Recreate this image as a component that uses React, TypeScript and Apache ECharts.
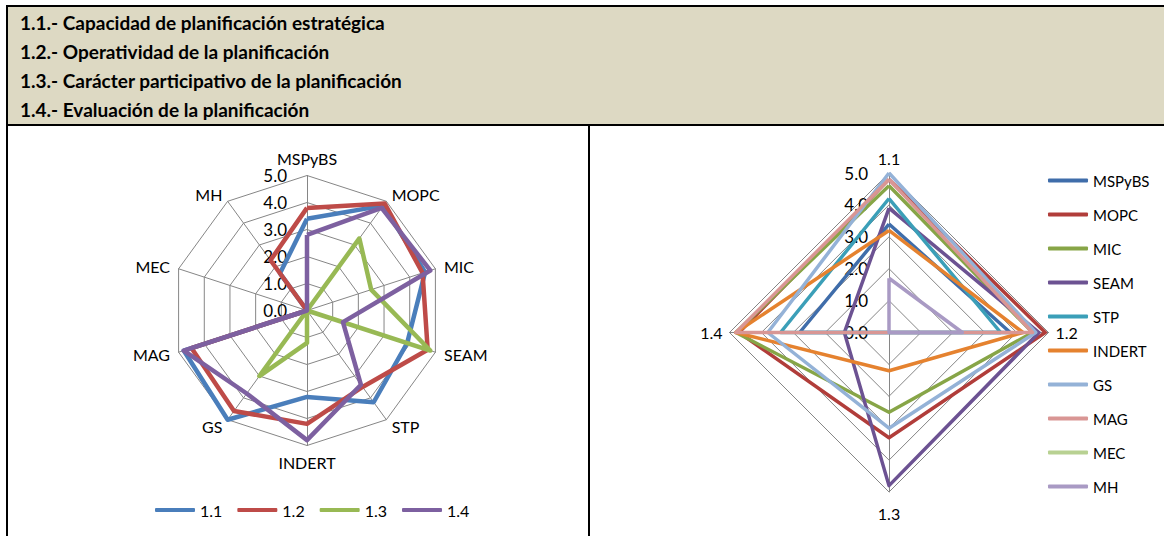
import React, { useEffect, useRef } from "react";
import * as echarts from "echarts";

// ---- Data ----
const institutions = ["MSPyBS", "MOPC", "MIC", "SEAM", "STP", "INDERT", "GS", "MAG", "MEC", "MH"];
const dimensions = ["1.1", "1.2", "1.3", "1.4"];
const headerLines = [
  "1.1.- Capacidad de planificación estratégica",
  "1.2.- Operatividad de la planificación",
  "1.3.- Carácter participativo de la planificación",
  "1.4.- Evaluación de la planificación",
];
// values per institution for 1.1, 1.2, 1.3, 1.4
const valMSPyBS = [3.4, 3.8, 0, 2.8];
const valMOPC = [4.8, 4.9, 3.3, 4.7];
const valMIC = [4.6, 4.5, 2.5, 4.8];
const valSEAM = [3.9, 4.7, 4.8, 1.4];
const valSTP = [4.2, 3.5, 0, 3.4];
const valINDERT = [3.2, 4.2, 1.2, 4.8];
const valGS = [5.0, 4.6, 3.0, 3.8];
const valMAG = [4.8, 4.5, 0, 4.8];
const valMEC = [0, 0, 0, 0];
const valMH = [1.7, 2.3, 0, 0];
const tickMax = 5;

const matrix = [valMSPyBS, valMOPC, valMIC, valSEAM, valSTP, valINDERT, valGS, valMAG, valMEC, valMH];

const leftColors = ["#4A7EBB", "#BE4B48", "#98B954", "#7D60A0"];
const rightColors = ["#3F6DAA", "#B13D3A", "#87A547", "#6C5292", "#3B9FB8", "#E5822F", "#94B2D7", "#D99694", "#B8D192", "#A99AC4"];

const FONT = "Lato, 'Open Sans', sans-serif";

// ECharts lays indicators counter-clockwise; reorder to draw clockwise
function cwOrder(n: number): number[] {
  const o = [0];
  for (let i = n - 1; i >= 1; i--) o.push(i);
  return o;
}

export default function App() {
  const ref = useRef<HTMLDivElement>(null);
  useEffect(() => {
    if (!ref.current) return;
    const chart = echarts.init(ref.current, undefined, { renderer: "svg" });

    const leftOrder = cwOrder(institutions.length);
    const rightOrder = cwOrder(dimensions.length);

    const labelFmt = (v: number) => v.toFixed(1);

    const leftIndicators = leftOrder.map((i, k) => {
      const ind: any = { name: institutions[i], min: 0, max: tickMax };
      if (k === 0) ind.axisLabel = { show: true, formatter: labelFmt, color: "#000", fontSize: 17, fontFamily: FONT, margin: 20 };
      return ind;
    });
    const rightIndicators = rightOrder.map((j, k) => {
      const ind: any = { name: dimensions[j], min: 0, max: tickMax };
      if (k === 0) ind.axisLabel = { show: true, formatter: labelFmt, color: "#000", fontSize: 17, fontFamily: FONT, margin: 21 };
      if (dimensions[j] === "1.3") ind.nameGap = 13;
      return ind;
    });

    const leftData = dimensions.map((d, j) => ({
      name: d,
      value: leftOrder.map((i) => matrix[i][j]),
      symbol: "none",
      lineStyle: { color: leftColors[j], width: 4.5 },
      itemStyle: { color: leftColors[j] },
    }));
    const rightData = institutions.map((name, i) => ({
      name,
      value: rightOrder.map((j) => matrix[i][j]),
      symbol: "none",
      lineStyle: { color: rightColors[i], width: 3.5 },
      itemStyle: { color: rightColors[i] },
    }));

    const gridLine = { lineStyle: { color: "#868686", width: 1 } };

    const option: any = {
      animation: false,
      graphic: [
        {
          type: "rect",
          z: -10,
          shape: { x: 7, y: 6, width: 1180, height: 119 },
          style: { fill: "#DDD9C3", stroke: "#000", lineWidth: 2 },
        },
        { type: "line", shape: { x1: 7, y1: 6, x2: 7, y2: 540 }, style: { stroke: "#000", lineWidth: 2 } },
        { type: "line", shape: { x1: 589, y1: 125, x2: 589, y2: 540 }, style: { stroke: "#000", lineWidth: 2 } },
        ...headerLines.map((t, k) => ({
          type: "text",
          x: 20,
          y: 22 + k * 29,
          style: { text: t, fill: "#000", font: `bold 19px ${FONT}`, textVerticalAlign: "middle" },
        })),
      ],
      legend: [
        {
          data: dimensions,
          orient: "horizontal",
          left: 155,
          top: 501,
          padding: 0,
          icon: "roundRect",
          itemWidth: 40,
          itemHeight: 4,
          itemGap: 15,
          textStyle: { color: "#000", fontSize: 16, fontFamily: FONT, lineHeight: 18 },
          selectedMode: false,
        },
        {
          data: institutions,
          orient: "vertical",
          left: 1048,
          top: 172,
          padding: 0,
          icon: "roundRect",
          itemWidth: 40,
          itemHeight: 4,
          itemGap: 17,
          textStyle: { color: "#000", fontSize: 15, fontFamily: FONT, lineHeight: 17 },
          selectedMode: false,
        },
      ],
      radar: [
        {
          center: [307, 310.5],
          radius: 135,
          shape: "polygon",
          splitNumber: 5,
          startAngle: 90,
          nameGap: 9,
          axisName: { color: "#000", fontSize: 16, fontFamily: FONT },
          axisLine: gridLine,
          splitLine: gridLine,
          splitArea: { show: false },
          axisTick: { show: false },
          axisLabel: { show: false },
          indicator: leftIndicators,
        },
        {
          center: [889, 332.5],
          radius: 159.5,
          shape: "polygon",
          splitNumber: 5,
          startAngle: 90,
          nameGap: 7,
          axisName: { color: "#000", fontSize: 16, fontFamily: FONT },
          axisLine: gridLine,
          splitLine: gridLine,
          splitArea: { show: false },
          axisTick: { show: false },
          axisLabel: { show: false },
          indicator: rightIndicators,
        },
      ],
      series: [
        { type: "radar", radarIndex: 0, symbol: "none", data: leftData },
        { type: "radar", radarIndex: 1, symbol: "none", data: rightData },
      ],
    };
    chart.setOption(option);
    return () => chart.dispose();
  }, []);

  return (
    <div
      ref={ref}
      style={{ position: "absolute", left: 0, top: 0, width: 1164, height: 536, background: "#fff" }}
    />
  );
}
